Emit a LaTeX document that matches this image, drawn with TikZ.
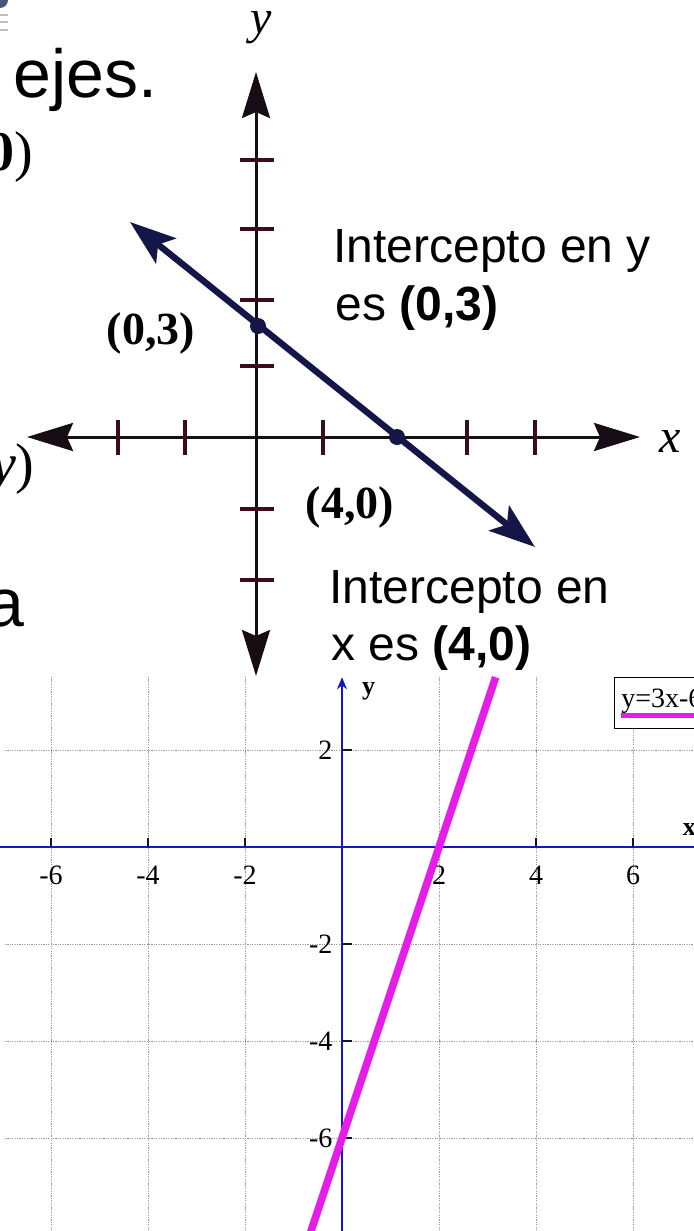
\documentclass[tikz,border=0pt]{standalone}
\usepackage{fontspec}
\setmainfont{Liberation Serif}
\setsansfont{Liberation Sans}
\usetikzlibrary{arrows.meta}

\definecolor{scanink}{RGB}{22,14,20}
\definecolor{tickred}{RGB}{60,12,26}
\definecolor{navyline}{RGB}{20,22,72}
\definecolor{plotblue}{RGB}{22,22,200}
\definecolor{plotmag}{RGB}{232,28,232}
\definecolor{gridgray}{RGB}{150,150,150}
\definecolor{iconblue}{RGB}{70,85,120}

\begin{document}
\begin{tikzpicture}[
  x=0.5pt, y=-0.5pt,
  every node/.style={inner sep=0pt},
  slide/.style={font=\sffamily\fontsize{24}{29}\selectfont, anchor=base west},
  bigslide/.style={font=\sffamily\fontsize{34}{40}\selectfont, anchor=base east},
  mathbit/.style={font=\fontsize{28}{32}\selectfont, anchor=base east},
  scanlbl/.style={font=\bfseries\fontsize{23}{26}\selectfont},
  axlbl/.style={font=\itshape\fontsize{24}{28}\selectfont},
  axis/.style={draw=scanink, line width=1.5pt, >={Stealth[length=23pt, width=14pt, inset=3pt]}, <->},
  tick/.style={draw=tickred, line width=1.6pt},
  fitline/.style={draw=navyline, line width=3.2pt, >={Stealth[length=23pt, width=16pt, inset=5pt]}, <->},
  dot/.style={circle, fill=navyline, minimum size=8pt},
  grid/.style={draw=gridgray, line width=0.5pt, dash pattern=on 0.6pt off 0.6pt},
  plotaxis/.style={draw=plotblue, line width=1.4pt},
  plottick/.style={draw=scanink!80!plotblue, line width=0.7pt},
  num/.style={font=\fontsize{14}{16}\selectfont},
  plotline/.style={draw=plotmag, line width=3.8pt}]

  \useasboundingbox (0,0) rectangle (694,1231);
  \clip (0,0) rectangle (694,1231);

  % ---- slide text (cut at the left edge) ---------------------------------
  \fill[iconblue] (0,0) circle (8);
  \foreach \t in {15,22,30} \draw[gray!50, line width=1pt] (0,\t) -- (8,\t);
  \node[bigslide] (ejes) at (158,97) {s ejes.};
  \node[mathbit] (pt0) at (34,170) {\textbf{0})};
  \node[mathbit] (pty) at (35,482) {\textit{y})};
  \node[bigslide] (la) at (25,626) {a};
  \node[bigslide] (ly) at (14,890) {y};

  % ---- scanned axes -------------------------------------------------------
  \coordinate (yTop) at (256,72);
  \coordinate (yBot) at (256,676);
  \coordinate (xLeft) at (27,437);
  \coordinate (xRight) at (640,437);
  \draw[axis] (yBot) -- (yTop);
  \draw[axis] (xLeft) -- (xRight);
  \foreach \t in {160,229,300,366,509,580} \draw[tick] (240,\t) -- (274,\t);
  \foreach \t in {118,185,323,467,535} \draw[tick] (\t,420) -- (\t,455);
  \node[axlbl] (ylbl) at (261,28) {y};
  \node[axlbl] (xlbl) at (670,441) {x};

  % the line and its two intercepts
  \coordinate (lnA) at (130,222);
  \coordinate (lnB) at (535,547);
  \draw[fitline] (lnA) -- (lnB);
  \node[dot] (yint) at (258,326) {};
  \node[dot] (xint) at (397,437) {};
  \node[scanlbl] (yintlbl) at (151,333) {(0,3)};
  \node[scanlbl] (xintlbl) at (350,507) {(4,0)};

  % ---- notes --------------------------------------------------------------
  \node[slide] (yinfoA) at (333,262) {Intercepto en y};
  \node[slide] (yinfoB) at (335,320) {es \textbf{(0,3)}};
  \node[slide] (xinfoA) at (329,603) {Intercepto en};
  \node[slide] (xinfoB) at (331,660) {x es \textbf{(4,0)}};

  % ---- plot of y=3x-6 -----------------------------------------------------
  \begin{scope}[shift={(342,847)}, x=24.25pt, y=24.25pt]
    \fill[white] (-7.1,-8) rectangle (7.3,3.5);
    \foreach \g in {-6,-4,-2,2,4,6} \draw[grid] (\g,-8) -- (\g,3.5);
    \foreach \g in {2,-2,-4,-6} \draw[grid] (-6.95,\g) -- (7.3,\g);

    \coordinate (pxL) at (-7.1,0);
    \coordinate (pxR) at (7.3,0);
    \coordinate (pyB) at (0,-8);
    \coordinate (pyT) at (0,3.5);
    \draw[plotaxis] (pxL) -- (pxR);
    \draw[plotaxis, -{Stealth[length=6pt, width=5pt]}] (pyB) -- (pyT);

    \foreach \g [count=\i] in {-6,-4,-2,2,4,6} {
      \draw[plottick] (\g,0) -- (\g,0.18);
      \node[num] (xn\i) at (\g,-0.58) {\g};
    }
    \foreach \g [count=\i] in {2,-2,-4,-6} {
      \draw[plottick] (0,\g) -- (0.2,\g);
      \node[num, anchor=east] (yn\i) at (-0.19,\g) {\g};
    }
    \node[num, font=\bfseries\fontsize{13}{15}\selectfont] (plotylbl) at (0.55,3.22) {y};
    \node[num, font=\bfseries\fontsize{13}{15}\selectfont, anchor=west] (plotxlbl) at (7.02,0.36) {x};

    % the graph
    \coordinate (mgA) at (-0.7333,-8.2);
    \coordinate (mgB) at (3.1667,3.5);
    \draw[plotline] (mgA) -- (mgB);

    % legend
    \node[draw=black, line width=0.7pt, fill=white, anchor=north west,
          minimum width=46pt, minimum height=25.5pt] (legbox) at (5.61,3.51) {};
    \node[num, anchor=base west] (legtxt) at (5.75,2.87) {y=3x-6};
    \coordinate (legA) at (5.75,2.72);
    \coordinate (legB) at (7.4,2.72);
    \draw[plotline, line width=2.5pt] (legA) -- (legB);
  \end{scope}
\end{tikzpicture}
\end{document}
